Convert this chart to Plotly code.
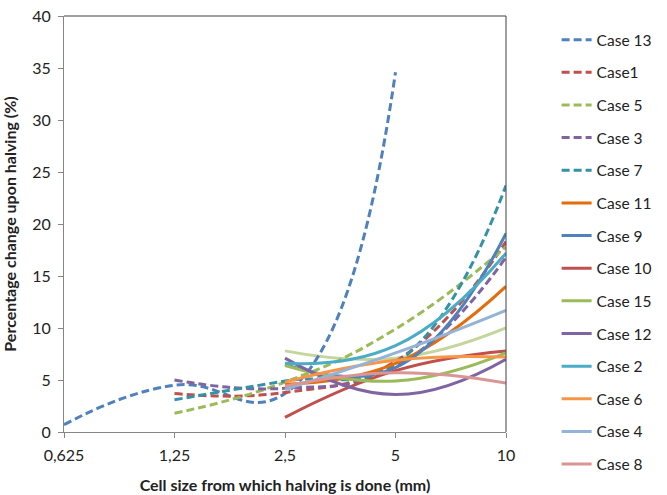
import plotly.graph_objects as go

categories = ["0,625", "1,25", "2,5", "5", "10"]
cat_pos = [0, 1, 2, 3, 4]

names = ["Case 13", "Case1", "Case 5", "Case 3", "Case 7", "Case 11", "Case 9",
         "Case 10", "Case 15", "Case 12", "Case 2", "Case 6", "Case 4", "Case 8", "Case 14"]

case13 = [0.7, 4.5, 3.7, 34.6, None]
case1 = [None, 3.7, 3.8, 6.8, 18.3]
case5 = [None, 1.8, 4.8, 9.9, 17.8]
case3 = [None, 5.0, 4.2, 6.3, 16.8]
case7 = [None, 3.1, 4.9, 6.6, 23.7]
case11 = [None, None, 4.6, 6.6, 14.0]
case9 = [None, None, 6.5, 6.2, 19.1]
case10 = [None, None, 1.4, 5.9, 7.8]
case15 = [None, None, 6.4, 4.9, 7.6]
case12 = [None, None, 7.1, 3.6, 7.0]
case2 = [None, None, 6.6, 8.3, 17.2]
case6 = [None, None, 4.8, 6.9, 7.2]
case4 = [None, None, 4.1, 7.6, 11.7]
case8 = [None, None, 4.4, 5.7, 4.7]
case14 = [None, None, 7.8, 7.1, 10.0]

series = [case13, case1, case5, case3, case7, case11, case9,
          case10, case15, case12, case2, case6, case4, case8, case14]
colors = ["#4F81BD", "#C0504D", "#9BBB59", "#8064A2", "#3592A6", "#E46C0A", "#4F81BD",
          "#C0504D", "#9BBB59", "#8064A2", "#4BACC6", "#F79646", "#95B3D7", "#D99694", "#C3D69B"]
dashed = [True] * 5 + [False] * 10

fig = go.Figure()
for i, (nm, vals) in enumerate(zip(names, series)):
    xs = [p for p, v in zip(cat_pos, vals) if v is not None]
    ys = [v for v in vals if v is not None]
    fig.add_trace(go.Scatter(
        x=xs, y=ys, name=nm, mode="lines",
        line=dict(color=colors[i], width=3, shape="spline", smoothing=1.3,
                  dash="8px,4px" if dashed[i] else "solid"),
        legendgroup=nm, showlegend=(nm != "Case 14"),
    ))

# draw Case 14 beneath the others
data = list(fig.data)
fig.data = [data[-1]] + data[:-1]

font_family = "Lato, Liberation Sans, sans-serif"
fig.update_layout(
    width=667, height=495,
    margin=dict(l=64, r=160, t=16, b=63),
    paper_bgcolor="white", plot_bgcolor="white",
    font=dict(family=font_family, size=16, color="#222222"),
    showlegend=True,
    legend=dict(x=1.112, y=0.983, xanchor="left", yanchor="top",
                traceorder="grouped", tracegroupgap=9.5, maxheight=495,
                font=dict(size=15.5, color="#222222"), bgcolor="rgba(0,0,0,0)"),
    xaxis=dict(range=[0, 4], tickmode="array", tickvals=cat_pos, ticktext=categories,
               showgrid=False, zeroline=False, showline=True, linecolor="#868686",
               linewidth=1, ticks="outside", ticklen=5, tickcolor="#868686",
               tickfont=dict(size=16), ticklabelstandoff=4, automargin=False,
               title=dict(text="<b>Cell size from which halving is done (mm)</b>",
                          font=dict(size=16), standoff=16)),
    yaxis=dict(range=[0, 40], tickmode="linear", tick0=0, dtick=5,
               showgrid=False, zeroline=False, showline=True, linecolor="#868686",
               linewidth=1, ticks="outside", ticklen=5, tickcolor="#868686",
               tickfont=dict(size=16), ticklabelstandoff=4, automargin=False,
               title=dict(text="<b>Percentage change upon halving (%)</b>",
                          font=dict(size=16), standoff=12)),
    shapes=[
        dict(type="line", xref="paper", yref="paper", x0=0, x1=1, y0=1, y1=1,
             line=dict(color="#404040", width=1)),
        dict(type="line", xref="paper", yref="paper", x0=1, x1=1, y0=0, y1=1,
             line=dict(color="#404040", width=1)),
    ],
)

fig.write_html("out.html")
